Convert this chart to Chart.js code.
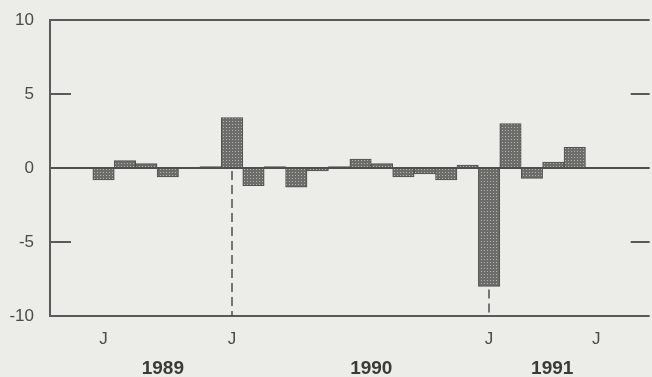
<!DOCTYPE html>
<html>
<head>
<meta charset="utf-8">
<script src="https://cdn.jsdelivr.net/npm/chart.js@4/dist/chart.umd.min.js"></script>
<style>
  html, body { margin: 0; padding: 0; background: #ecece8; }
  #wrap { width: 652px; height: 377px; }
</style>
</head>
<body>
<div id="wrap"><canvas id="grafica" width="652" height="377"></canvas></div>
<script>
// meses (nov 1988 - feb 1991), una barra por mes
const meses = ['N88','D88','E89','F89','M89','A89','M89','J89','J89','A89','S89','O89','N89','D89',
               'E90','F90','M90','A90','M90','J90','J90','A90','S90','O90','N90','D90','E91','F91'];
const valores = [null, null, -0.8, 0.5, 0.3, -0.6, 0, 0.1, 3.4, -1.2, 0.1, -1.3, -0.2, 0.1,
                 0.6, 0.3, -0.6, -0.4, -0.8, 0.2, -8.0, 3.0, -0.7, 0.4, 1.4, null, null, null];
// etiquetas del eje x (solo algunas "J")
const etiquetasX = ['', '', 'J', '', '', '', '', '', 'J', '', '', '', '', '',
                    '', '', '', '', '', '', 'J', '', '', '', '', 'J', '', ''];
const anios = ['1989', '1990', '1991'];
const aniosPos = [5.27, 15.0, 23.45];
const marcasY = [-10, -5, 0, 5, 10];
const guiones = [8, 20]; // barras con línea discontinua hasta el eje

// relleno punteado de las barras
function trama() {
  const c = document.createElement('canvas');
  c.width = 3; c.height = 3;
  const g = c.getContext('2d');
  g.fillStyle = '#6c6c6a';
  g.fillRect(0, 0, 3, 3);
  g.fillStyle = '#b4b4ae';
  g.fillRect(1, 1, 1, 1);
  return g.createPattern(c, 'repeat');
}

const marco = {
  id: 'marco',
  afterDatasetsDraw(chart) {
    const { ctx, chartArea: a, scales } = chart;
    const y = scales.y;
    ctx.save();
    // línea de cero
    ctx.strokeStyle = '#4e4e4c';
    ctx.lineWidth = 2;
    const y0 = Math.round(y.getPixelForValue(0));
    ctx.beginPath(); ctx.moveTo(a.left, y0); ctx.lineTo(a.right, y0); ctx.stroke();
    // marco: arriba, izquierda, abajo (sin lado derecho)
    ctx.strokeStyle = '#5a5a58';
    ctx.beginPath();
    ctx.moveTo(a.right, a.top); ctx.lineTo(a.left, a.top);
    ctx.lineTo(a.left, a.bottom); ctx.lineTo(a.right, a.bottom);
    ctx.stroke();
    // marcas hacia dentro en 5 y -5
    [5, -5].forEach(v => {
      const p = Math.round(y.getPixelForValue(v));
      ctx.beginPath();
      ctx.moveTo(a.left, p); ctx.lineTo(a.left + 21, p);
      ctx.moveTo(a.right - 19, p); ctx.lineTo(a.right, p);
      ctx.stroke();
    });
    // líneas discontinuas
    const meta = chart.getDatasetMeta(0);
    ctx.setLineDash([9, 5]);
    ctx.lineWidth = 1.5;
    ctx.strokeStyle = '#4e4e4c';
    guiones.forEach(i => {
      const x = Math.round(meta.data[i].x);
      const desde = y.getPixelForValue(Math.min(0, valores[i])) + 3;
      ctx.beginPath(); ctx.moveTo(x, desde); ctx.lineTo(x, a.bottom); ctx.stroke();
    });
    ctx.restore();
  }
};

new Chart(document.getElementById('grafica'), {
  type: 'bar',
  data: {
    labels: meses,
    datasets: [{
      data: valores,
      backgroundColor: trama(),
      borderColor: '#505050',
      borderWidth: 1,
      categoryPercentage: 1,
      barPercentage: 1,
    }],
  },
  options: {
    responsive: false,
    animation: false,
    layout: { padding: { top: 20, right: 0 } },
    plugins: { legend: { display: false }, tooltip: { enabled: false } },
    scales: {
      x: {
        grid: { display: false, drawTicks: false },
        border: { display: false },
        ticks: {
          autoSkip: false, maxRotation: 0, padding: 13,
          color: '#4a4a48', font: { family: 'Liberation Sans', size: 17 },
          callback: (v, i) => etiquetasX[i],
        },
        afterFit: s => { s.height = 38; },
      },
      x2: {
        type: 'linear', position: 'bottom', min: 0, max: meses.length, offset: false,
        grid: { display: false, drawTicks: false },
        border: { display: false },
        afterBuildTicks: s => { s.ticks = aniosPos.map(v => ({ value: v })); },
        ticks: {
          padding: 3, maxRotation: 0, autoSkip: false,
          color: '#3a3a38', font: { family: 'Liberation Sans', size: 19, weight: 'bold' },
          callback: (v, i) => anios[i],
        },
        afterFit: s => { s.height = 23; },
      },
      y: {
        min: -10, max: 10,
        grid: { display: false, drawTicks: false },
        border: { display: false },
        afterBuildTicks: s => { s.ticks = marcasY.map(v => ({ value: v })); },
        ticks: {
          padding: 16,
          color: '#4a4a48', font: { family: 'Liberation Sans', size: 17 },
        },
        afterFit: s => { s.width = 50; s.paddingTop = 0; s.paddingBottom = 0; },
      },
    },
  },
  plugins: [marco],
});
</script>
</body>
</html>
